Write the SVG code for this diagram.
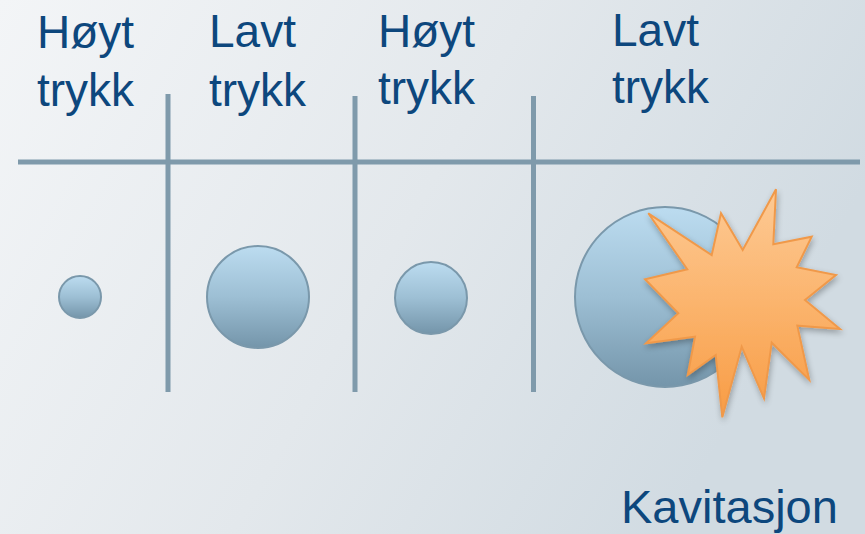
<svg xmlns="http://www.w3.org/2000/svg" width="865" height="534" viewBox="0 0 865 534">
  <defs>
    <linearGradient id="bg" x1="0" y1="0" x2="1" y2="0.35">
      <stop offset="0" stop-color="#f3f5f7"/>
      <stop offset="0.55" stop-color="#e3e8ec"/>
      <stop offset="1" stop-color="#d1dbe2"/>
    </linearGradient>
    <linearGradient id="bubble" x1="0" y1="0" x2="0" y2="1">
      <stop offset="0" stop-color="#bcdcf0"/>
      <stop offset="0.5" stop-color="#9dbfd4"/>
      <stop offset="1" stop-color="#7495aa"/>
    </linearGradient>
    <linearGradient id="burst" x1="0" y1="0" x2="0" y2="1">
      <stop offset="0" stop-color="#fdca95"/>
      <stop offset="0.5" stop-color="#fbb46d"/>
      <stop offset="1" stop-color="#f89c45"/>
    </linearGradient>
    <filter id="shadow" x="-20%" y="-20%" width="140%" height="140%">
      <feGaussianBlur in="SourceAlpha" stdDeviation="3"/>
      <feOffset dx="1" dy="3" result="b"/>
      <feComponentTransfer><feFuncA type="linear" slope="0.3"/></feComponentTransfer>
      <feMerge><feMergeNode/><feMergeNode in="SourceGraphic"/></feMerge>
    </filter>
    <style>
      .lbl { font-family: "Liberation Sans", Arial, sans-serif; font-size: 46px; fill: #0d477d; }
      .cap { font-size: 47px; }
      .bar { stroke: #7f9aab; stroke-width: 5; fill: none; }
      .bubble { fill: url(#bubble); stroke: #7a98ab; stroke-width: 2; }
    </style>
  </defs>

  <rect width="865" height="534" fill="url(#bg)"/>

  <!-- pressure zone dividers -->
  <g id="connectors">
    <line class="bar" x1="18" y1="162" x2="860" y2="162"/>
    <line class="bar" x1="168" y1="94" x2="168" y2="392"/>
    <line class="bar" x1="355" y1="96" x2="355" y2="392"/>
    <line class="bar" x1="533.5" y1="96" x2="533.5" y2="392"/>
  </g>

  <!-- zone labels and bubbles -->
  <g id="zone1">
    <text class="lbl" x="37" y="48">Høyt</text>
    <text class="lbl" x="37" y="106">trykk</text>
    <circle class="bubble" cx="80" cy="297" r="21"/>
  </g>
  <g id="zone2">
    <text class="lbl" x="209" y="47">Lavt</text>
    <text class="lbl" x="209" y="106">trykk</text>
    <circle class="bubble" cx="258" cy="297" r="51"/>
  </g>
  <g id="zone3">
    <text class="lbl" x="378" y="47">Høyt</text>
    <text class="lbl" x="378" y="104">trykk</text>
    <circle class="bubble" cx="431" cy="298" r="36"/>
  </g>
  <g id="zone4">
    <text class="lbl" x="612" y="46">Lavt</text>
    <text class="lbl" x="612" y="103">trykk</text>
    <circle class="bubble" cx="665" cy="297" r="90"/>
    <polygon filter="url(#shadow)" fill="url(#burst)" stroke="#f0994a" stroke-width="2" stroke-linejoin="miter"
      points="648.3,213.3 711.7,255 721,213.3 742.7,250 776,189.3 773.3,244.3 811.7,236.7 796.7,267.3 836,275 805,300 840,329 797.3,325.7 809.3,380 771.7,342.7 764,398.3 741.7,346.7 722.3,417.3 715.7,355 687.7,375 695,336.7 646,343.3 678.3,313.3 645,279.3 687.3,269.3"/>
  </g>

  <g id="caption">
    <text class="lbl cap" x="621" y="523">Kavitasjon</text>
  </g>
</svg>
